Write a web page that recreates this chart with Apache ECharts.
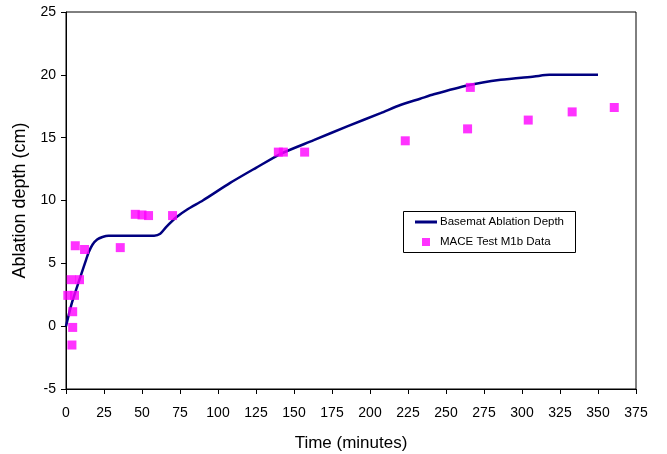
<!DOCTYPE html>
<html>
<head>
<meta charset="utf-8">
<script src="https://cdn.jsdelivr.net/npm/echarts@6/dist/echarts.min.js"></script>
<style>
  html, body { margin: 0; padding: 0; background: #fff; }
  #chart { width: 667px; height: 454px; }
</style>
</head>
<body>
<div id="chart"></div>
<script>
// Axis ticks
const xTicks = { min: 0, max: 375, interval: 25 };
const yTicks = { min: -5, max: 25, interval: 5 };

// Modelled basemat ablation depth (time in minutes, depth in cm)
const modelTime  = [0, 3.5, 9.4, 12.7, 15, 17.5, 20.5, 24, 28, 40, 58, 62, 66, 73, 80, 90, 108, 125, 141, 163, 185, 207, 220, 233, 242, 264, 286, 308, 318, 350];
const modelDepth = [0, 1.7, 3.9, 5.1, 5.9, 6.5, 6.9, 7.1, 7.2, 7.2, 7.2, 7.35, 7.9, 8.7, 9.3, 10.0, 11.4, 12.6, 13.7, 14.8, 15.9, 16.95, 17.6, 18.1, 18.45, 19.15, 19.6, 19.87, 20.0, 20.0];

// MACE Test M1b measured data
const testTime  = [1.2, 5.6, 3.4, 8.9, 4.4, 4.4, 3.9, 6.1, 12.2, 35.7, 45.6, 50, 54.3, 70.1, 139.7, 143, 157, 223.2, 264.2, 266, 304.1, 333, 360.7];
const testDepth = [2.45, 2.45, 3.7, 3.7, 1.15, -0.1, -1.5, 6.4, 6.1, 6.25, 8.9, 8.85, 8.8, 8.8, 13.85, 13.85, 13.85, 14.75, 15.7, 19.0, 16.4, 17.05, 17.4];

const lineName = 'Basemat Ablation Depth';
const dataName = 'MACE Test M1b Data';

const pair = (xs, ys) => xs.map((x, i) => [x, ys[i]]);

const font = 'Liberation Sans, Arial, sans-serif';
const legendText = { fontFamily: font, fontSize: 11.5, color: '#000' };
const chart = echarts.init(document.getElementById('chart'), null, { renderer: 'canvas' });

chart.setOption({
  animation: false,
  backgroundColor: '#ffffff',
  grid: {
    left: 66, right: 31, top: 12, bottom: 65,
    outerBoundsMode: 'none',
    containLabel: false,
    show: true, borderColor: '#000', borderWidth: 1, backgroundColor: 'transparent'
  },
  // legend frame shared by the two legend rows
  graphic: [{
    type: 'rect',
    shape: { x: 403.5, y: 211.5, width: 172, height: 41 },
    style: { fill: '#fff', stroke: '#000', lineWidth: 1 },
    z: 10
  }],
  legend: [
    {
      left: 415, top: 216, padding: 0,
      itemWidth: 22, itemHeight: 3,
      icon: 'rect',
      textStyle: Object.assign({ padding: [0, 0, 0, -2] }, legendText),
      data: [{ name: lineName }],
      z: 20
    },
    {
      left: 422, top: 236, padding: 0,
      itemWidth: 8, itemHeight: 8,
      icon: 'rect',
      textStyle: Object.assign({ padding: [0, 0, 0, 5] }, legendText),
      data: [{ name: dataName }],
      z: 20
    }
  ],
  xAxis: {
    type: 'value',
    min: xTicks.min, max: xTicks.max, interval: xTicks.interval,
    name: 'Time (minutes)',
    nameLocation: 'middle', nameGap: 46,
    nameTextStyle: { fontFamily: font, fontSize: 17, color: '#000' },
    axisLine: { show: true, onZero: false, lineStyle: { color: '#000', width: 1 } },
    axisTick: { show: true, length: 5, lineStyle: { color: '#000' } },
    axisLabel: { fontFamily: font, fontSize: 14, color: '#000', margin: 17 },
    splitLine: { show: false }
  },
  yAxis: {
    type: 'value',
    min: yTicks.min, max: yTicks.max, interval: yTicks.interval,
    name: 'Ablation depth (cm)',
    nameLocation: 'middle', nameGap: 36,
    nameTextStyle: { fontFamily: font, fontSize: 18, color: '#000' },
    axisLine: { show: true, onZero: false, lineStyle: { color: '#000', width: 1 } },
    axisTick: { show: true, length: 5, lineStyle: { color: '#000' } },
    axisLabel: { fontFamily: font, fontSize: 14, color: '#000', margin: 10 },
    splitLine: { show: false }
  },
  series: [
    {
      name: lineName,
      type: 'line',
      data: pair(modelTime, modelDepth),
      symbol: 'none',
      smooth: 0.25,
      lineStyle: { color: '#000080', width: 2.5 },
      itemStyle: { color: '#000080' },
      z: 2
    },
    {
      name: dataName,
      type: 'scatter',
      data: pair(testTime, testDepth),
      symbol: 'rect',
      symbolSize: 9,
      itemStyle: { color: '#ff00ff' },
      z: 3
    }
  ]
});
</script>
</body>
</html>
